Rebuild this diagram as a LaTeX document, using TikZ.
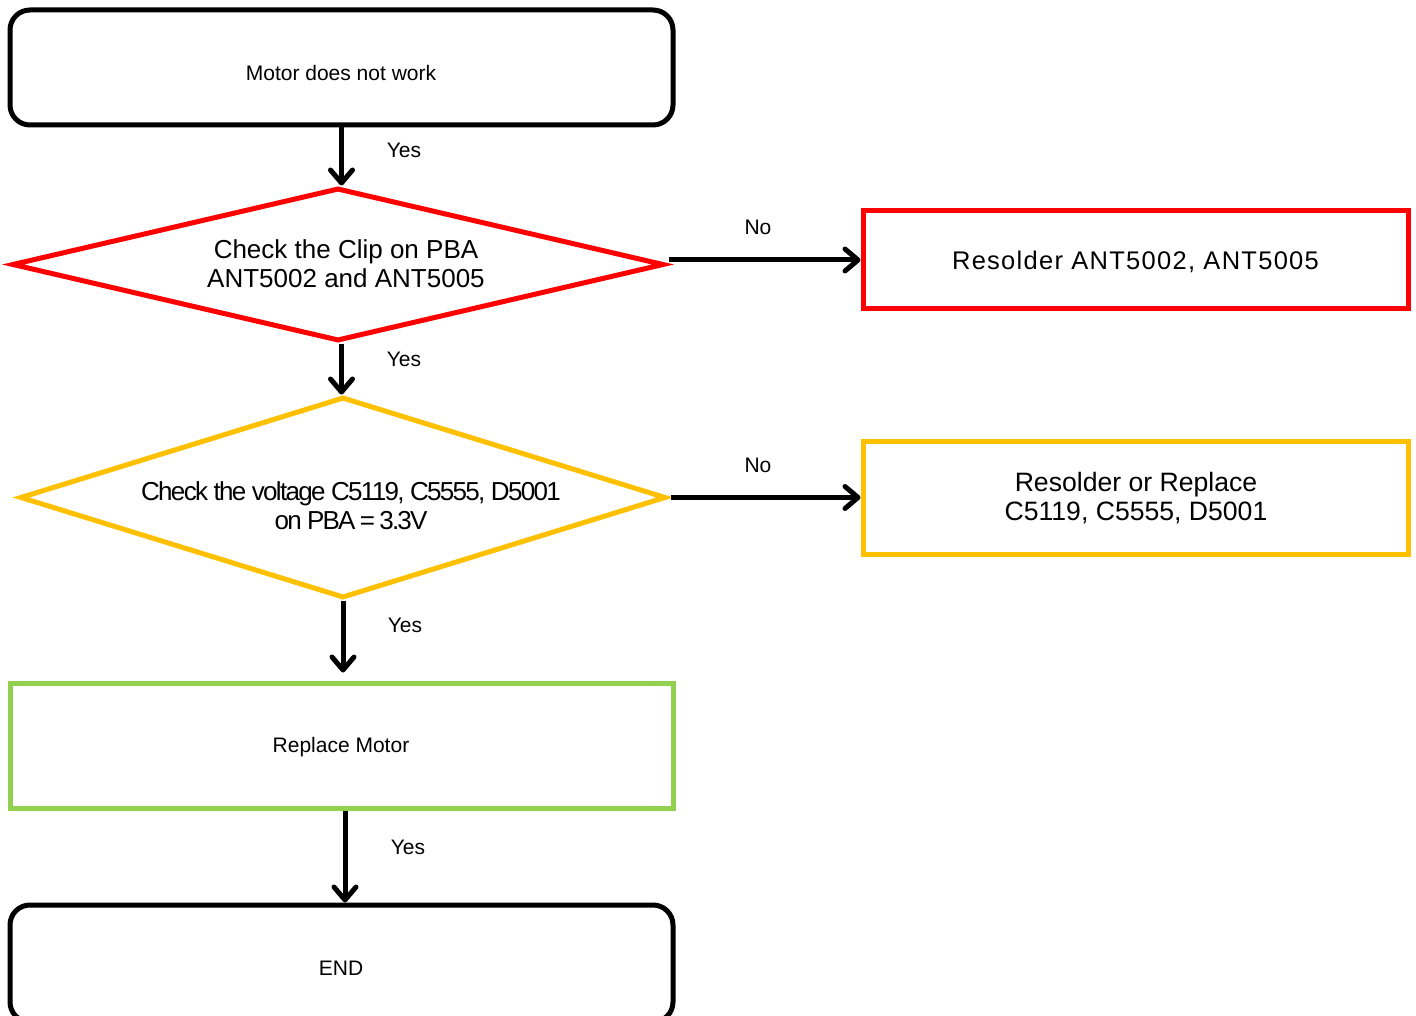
\documentclass[tikz,border=0pt]{standalone}
\usepackage{fontspec}
\setmainfont{Liberation Sans}
\usetikzlibrary{arrows.meta,shapes.geometric}
\definecolor{cred}{RGB}{255,0,0}
\definecolor{cyel}{RGB}{255,192,0}
\definecolor{cgrn}{RGB}{146,208,80}
\begin{document}
\begin{tikzpicture}[x=1pt,y=-1pt,
  termbox/.style={draw=black,line width=5pt,rounded corners=20pt,minimum width=663pt,inner sep=0pt},
  plainbox/.style={line width=5pt,inner sep=0pt},
  dia/.style={diamond,line width=5pt,inner sep=0pt},
  flow/.style={line width=5pt,-{Straight Barb[length=13pt,width=22pt,round]}},
  lbl/.style={font=\fontsize{21}{25}\selectfont,inner sep=0pt,anchor=base},
  big/.style={font=\fontsize{26}{29}\selectfont,inner sep=0pt,align=center}
]
\useasboundingbox (0,0) rectangle (1416,1016);
\fill[white] (0,0) rectangle (1416,1016);
\clip (0,0) rectangle (1416,1016);

% nodes
\node[termbox,minimum height=115pt] (start) at (341.5,67.5) {};
\node[dia,draw=cred,minimum width=652pt,minimum height=153pt] (d1) at (338,264.5) {};
\node[dia,draw=cyel,minimum width=646pt,minimum height=201pt] (d2) at (343,497.5) {};
\node[plainbox,draw=cgrn,minimum width=663pt,minimum height=125pt] (fix) at (341.5,745.5) {};
\node[termbox,minimum height=117pt] (stop) at (341.5,963.5) {};
\node[plainbox,draw=cred,minimum width=545pt,minimum height=98pt] (r1) at (1135.5,260) {};
\node[plainbox,draw=cyel,minimum width=545pt,minimum height=113pt] (r2) at (1135.5,497.5) {};

% texts
\node[lbl] (tstart) at (341,80.5) {Motor does not work};
\node[big] (td1) at (346,263.5) {Check the Clip on PBA\\ANT5002 and ANT5005};
\node[big] (td2) at (351,505.5) {\addfontfeature{LetterSpace=-6.5}Check the voltage C5119, C5555, D5001\\\addfontfeature{LetterSpace=-7}on PBA\,=\,3.3V};
\node[lbl] (tfix) at (341,752.5) {Replace Motor};
\node[lbl] (tstop) at (341,975.5) {END};
\node[lbl,font=\fontsize{25.5}{29}\selectfont] (tr1) at (1135.5,269.2) {\addfontfeature{LetterSpace=5}Resolder ANT5002, ANT5005};
\node[big,font=\fontsize{26.6}{29}\selectfont] (tr2) at (1136,498.5) {Resolder or Replace\\C5119, C5555, D5001};

% connectors
\draw[flow] (start.south) -- (start.south |- d1.north);
\draw[flow] (d1.south -| start.south) -- (d2.north -| start.south);
\draw[flow,shorten >=8pt] (d2.south) -- (d2.south |- fix.north);
\draw[flow] ([xshift=3.5pt]fix.south) -- ([xshift=3.5pt]stop.north);
\draw[flow,shorten <=2pt] (d1.east |- r1.west) -- (r1.west);
\draw[flow,shorten <=2pt] (d2.east) -- (r2.west |- d2.east);

% connector labels
\node[lbl] (y1) at (404,157.5) {Yes};
\node[lbl] (y2) at (404,366.5) {Yes};
\node[lbl] (y3) at (405,632.5) {Yes};
\node[lbl] (y4) at (408,854.5) {Yes};
\node[lbl] (n1) at (758,234.5) {No};
\node[lbl] (n2) at (758,472.5) {No};
\end{tikzpicture}
\end{document}
